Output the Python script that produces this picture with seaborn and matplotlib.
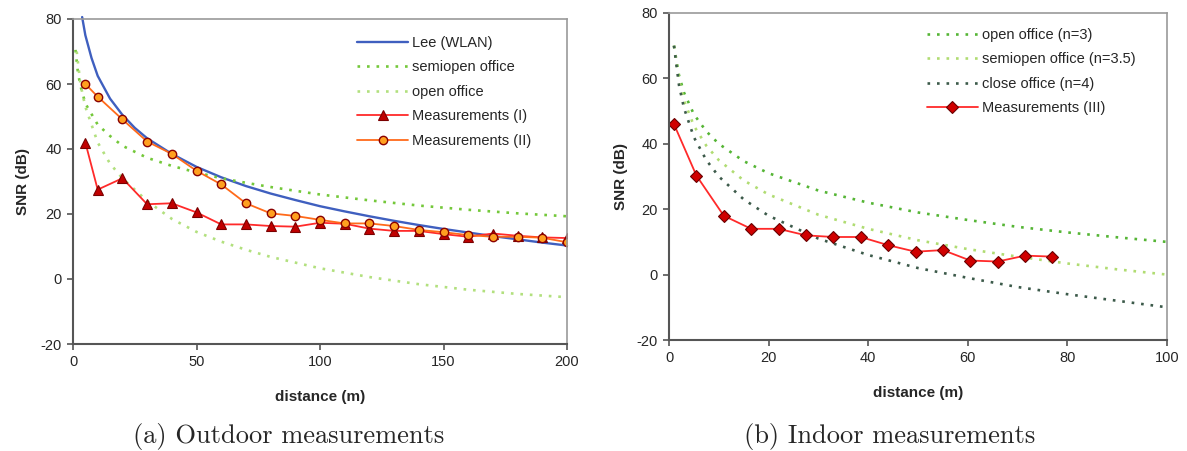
import matplotlib
matplotlib.use("Agg")
import matplotlib.pyplot as plt
import seaborn as sns

# ---------------- data: (a) outdoor ----------------
lee_x = [3.7, 5, 7.5, 10, 15, 20, 25, 30, 40, 50, 60, 70, 80, 90, 100, 110, 120,
         130, 140, 150, 160, 170, 180, 190, 200]
lee_y = [80.6, 75, 68, 62.5, 55.5, 50.5, 46.5, 43.3, 38.5, 34.5, 31.3, 28.6, 26.3,
         24.3, 22.4, 20.8, 19.3, 17.9, 16.6, 15.4, 14.3, 13.2, 12.2, 11.2, 10.3]

semi_a_x = [1, 2, 3, 5, 10, 15, 20, 30, 40, 50, 60, 70, 80, 100, 120, 140, 160, 180, 200]
semi_a_y = [70.5, 63.5, 59.5, 54, 47.5, 44, 41, 37.3, 34.8, 32.8, 31, 29.6, 28.3,
            26, 24.2, 22.6, 21.3, 20.2, 19.3]

open_a_x = [1.5, 3, 5, 10, 15, 20, 30, 40, 50, 60, 70, 80, 100, 120, 140, 160, 180, 200]
open_a_y = [70, 60, 53, 42, 35.5, 31, 24, 18.5, 14.5, 11.5, 9, 6.8, 3.3, 0.6,
            -1.6, -3.3, -4.6, -5.6]

meas1_x = [5, 10, 20, 30, 40, 50, 60, 70, 80, 90, 100, 110, 120, 130, 140, 150,
           160, 170, 180, 190, 200]
meas1_y = [42, 27.5, 31, 23, 23.3, 20.5, 16.8, 16.8, 16.3, 16.1, 17.3, 17, 15.5,
           14.8, 14.8, 13.8, 13, 14, 13.3, 12.8, 12.6]

meas2_x = [5, 10, 20, 30, 40, 50, 60, 70, 80, 90, 100, 110, 120, 130, 140, 150,
           160, 170, 180, 190, 200]
meas2_y = [60, 56.1, 49.1, 42.3, 38.5, 33.3, 29.1, 23.3, 20.2, 19.4, 18.2, 17.1,
           17.1, 16.3, 15.1, 14.4, 13.5, 13, 13, 12.7, 11.3]

# ---------------- data: (b) indoor ----------------
ind_x = [1, 2, 3, 5, 7.5, 10, 15, 20, 30, 40, 50, 60, 70, 80, 90, 100]
open_b_y = [70, 61, 55.7, 49, 43.8, 40, 34.7, 31, 25.7, 22, 19, 16.7, 14.6, 12.9, 11.4, 10]
semi_b_y = [70, 59.5, 53.3, 45.5, 39.4, 35, 28.8, 24.5, 18.3, 14, 10.5, 7.8, 5.5, 3.4, 1.6, 0]
close_b_y = [70, 58, 51, 42, 35, 30, 23, 18, 11, 6, 2, -1, -3.8, -6, -8, -10]

meas3_x = [1, 5.5, 11, 16.5, 22, 27.5, 33, 38.5, 44, 49.5, 55, 60.5, 66, 71.5, 77]
meas3_y = [46, 30.3, 18, 14, 14, 12, 11.5, 11.5, 9, 7, 7.5, 4.3, 4, 5.8, 5.5]

captions = ["(a) Outdoor measurements", "(b) Indoor measurements"]

# ---------------- style ----------------
sns.set_style("ticks")
plt.rcParams["font.family"] = ["Liberation Sans", "DejaVu Sans"]
plt.rcParams["axes.unicode_minus"] = False

fig = plt.figure(figsize=(11.87, 4.51), dpi=100)
W, H = 1187, 451
axA = fig.add_axes([73 / W, 1 - 344 / H, (567 - 73) / W, (344 - 19) / H])
axB = fig.add_axes([669 / W, 1 - 340 / H, (1167 - 669) / W, (340 - 13) / H])

dot = (0, (1, 2.6))
dlw = 1.9

# panel (a)
sns.lineplot(x=lee_x, y=lee_y, ax=axA, color="#3f5fbf", lw=1.7,
             label="Lee (WLAN)", sort=False)
sns.lineplot(x=semi_a_x, y=semi_a_y, ax=axA, color="#74c83a", lw=dlw,
             linestyle=dot, label="semiopen office", sort=False)
sns.lineplot(x=open_a_x, y=open_a_y, ax=axA, color="#b2e07e", lw=dlw,
             linestyle=dot, label="open office", sort=False)
sns.lineplot(x=meas1_x, y=meas1_y, ax=axA, color="#ff2a2a", lw=1.3,
             marker="^", markersize=7, markerfacecolor="#c00000",
             markeredgecolor="#7a0000", markeredgewidth=0.8,
             label="Measurements (I)", sort=False)
sns.lineplot(x=meas2_x, y=meas2_y, ax=axA, color="#ff6a1a", lw=1.3,
             marker="o", markersize=6, markerfacecolor="#ffa020",
             markeredgecolor="#8a0000", markeredgewidth=1.0,
             label="Measurements (II)", sort=False)
for l in axA.lines[:1]:
    l.set_clip_on(False)

axA.set_xlim(0, 200)
axA.set_ylim(-20, 80)
axA.set_xticks([0, 50, 100, 150, 200])
axA.set_yticks([-20, 0, 20, 40, 60, 80])

# panel (b)
sns.lineplot(x=ind_x, y=open_b_y, ax=axB, color="#55b535", lw=dlw,
             linestyle=dot, label="open office (n=3)", sort=False)
sns.lineplot(x=ind_x, y=semi_b_y, ax=axB, color="#b0dc72", lw=dlw,
             linestyle=dot, label="semiopen office (n=3.5)", sort=False)
sns.lineplot(x=ind_x, y=close_b_y, ax=axB, color="#3c5a4a", lw=dlw,
             linestyle=dot, label="close office (n=4)", sort=False)
sns.lineplot(x=meas3_x, y=meas3_y, ax=axB, color="#ff2a2a", lw=1.3,
             marker="D", markersize=6, markerfacecolor="#d00000",
             markeredgecolor="#6a0000", markeredgewidth=0.8,
             label="Measurements (III)", sort=False)
axB.set_xlim(0, 100)
axB.set_ylim(-20, 80)
axB.set_xticks([0, 20, 40, 60, 80, 100])
axB.set_yticks([-20, 0, 20, 40, 60, 80])

for ax, anchor, lp in ((axA, (0.575, 0.948), 8), (axB, (0.518, 0.955), 6)):
    ax.set_xlabel("distance (m)", fontsize=11, fontweight="bold", labelpad=15)
    ax.set_ylabel("SNR (dB)", fontsize=11, fontweight="bold", labelpad=lp)
    ax.tick_params(axis="both", labelsize=10.5, direction="out", length=4,
                   width=1.2, color="#555555", pad=4)
    for s in ("left", "bottom"):
        ax.spines[s].set_color("#555555")
        ax.spines[s].set_linewidth(1.5)
    for s in ("top", "right"):
        ax.spines[s].set_color("#9a9a9a")
        ax.spines[s].set_linewidth(1.2)
    ax.legend(loc="upper left", bbox_to_anchor=anchor, frameon=False,
              fontsize=10.5, handlelength=3.5, handletextpad=0.25,
              labelspacing=0.72, borderpad=0, borderaxespad=0)

fig.text(289 / W, 1 - 436 / H, captions[0], ha="center", va="center",
         fontsize=19, family="cmr10")
fig.text(890 / W, 1 - 436 / H, captions[1], ha="center", va="center",
         fontsize=19, family="cmr10")

fig.savefig("out.png", dpi=100)
